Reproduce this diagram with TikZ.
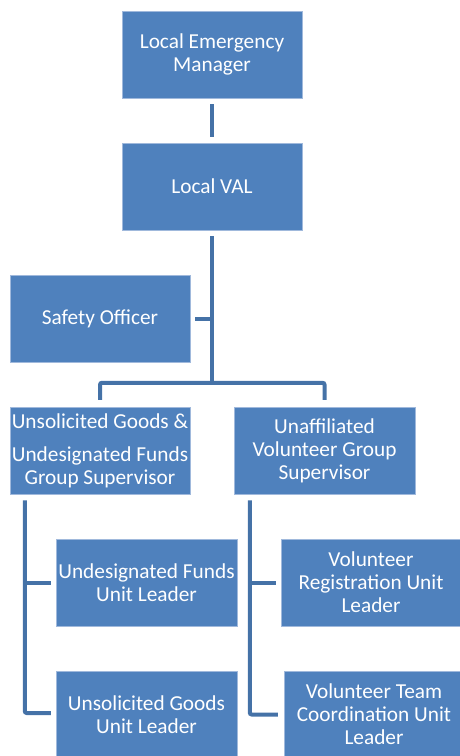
\documentclass[tikz,border=0pt]{standalone}
\usepackage{fontspec}
\setmainfont{Carlito}
\usetikzlibrary{calc}
\definecolor{boxblue}{RGB}{79,129,189}
\definecolor{boxedge}{RGB}{160,185,220}
\definecolor{conn}{RGB}{69,114,167}
\begin{document}
\begin{tikzpicture}[x=1pt,y=-1pt,
  orgbox/.style={fill=boxblue,draw=boxedge,line width=0.5pt,minimum width=180pt,minimum height=87pt,inner sep=0pt,
    text=white,align=center,font=\fontsize{21.3}{23}\selectfont},
  link/.style={draw=conn,line width=4pt,rounded corners=2pt}]
\useasboundingbox (0,0) rectangle (459,756);
\node[orgbox] (lem) at (212,54.5) {Local Emergency\\Manager};
\node[orgbox] (val) at (212,186.5) {Local VAL};
\node[orgbox] (safety) at (100,318.5) {Safety Officer};
\node[orgbox] (ug) at (100,450.5) {Unsolicited Goods \&\\[10pt]Undesignated Funds\\Group Supervisor};
\node[orgbox,minimum width=181pt] (uv) at (324.5,450.5) {Unaffiliated\\Volunteer Group\\Supervisor};
\node[orgbox,minimum width=181pt] (udf) at (146.5,582.5) {Undesignated Funds\\Unit Leader};
\node[orgbox,minimum width=181pt] (usg) at (146.5,714.5) {Unsolicited Goods\\Unit Leader};
\node[orgbox] (vr) at (371,582.5) {Volunteer\\Registration Unit\\Leader};
\node[orgbox] (vtc) at (374,714.5) {Volunteer Team\\Coordination Unit\\Leader};
% helper coordinates
\coordinate (hub) at ($(val.south)+(0,153)$);
\coordinate (lx) at ($(ug.south west)+(15,6)$);
\coordinate (rx) at ($(uv.south west)+(16,6)$);
% connectors
\draw[link] ($(lem.south)+(0,6)$) -- ($(val.north)+(0,-6)$);
\draw[link] ($(val.south)+(0,6)$) -- (hub);
\draw[link] (hub |- safety.east) -- ($(safety.east)+(5,0)$);
\draw[link] ($(ug.north)+(0,-7)$) -- ($(ug.north)+(0,-24)$) -- ($(uv.north)+(0,-24)$) -- ($(uv.north)+(0,-7)$);
\draw[link] (lx) |- ($(usg.west)+(-5,-1.5)$);
\draw[link] (lx |- udf.west) -- ($(udf.west)+(-5,0)$);
\draw[link] (rx) |- ($(vtc.west)+(-6,0)$);
\draw[link] (rx |- vr.west) -- ($(vr.west)+(-5,0)$);
\end{tikzpicture}
\end{document}
